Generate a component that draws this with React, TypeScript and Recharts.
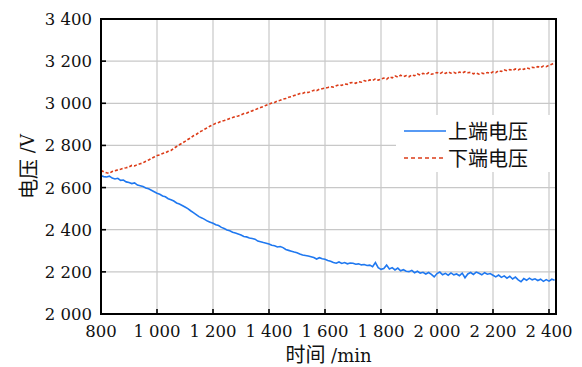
import React from 'react';
import { LineChart, Line, XAxis, YAxis, CartesianGrid, Legend, ReferenceArea } from 'recharts';

// sampling: every 10 min starting at 800 min
const startTime = 800;
const timeStep = 10;

const upperVoltage = [
  2656, 2652, 2650, 2654, 2645, 2641, 2644, 2634, 2636, 2627,
  2624, 2619, 2622, 2612, 2609, 2605, 2598, 2594, 2587, 2580,
  2573, 2568, 2560, 2556, 2547, 2542, 2536, 2527, 2522, 2515,
  2508, 2500, 2490, 2481, 2472, 2462, 2456, 2449, 2441, 2436,
  2431, 2424, 2420, 2411, 2406, 2399, 2395, 2388, 2384, 2380,
  2375, 2368, 2366, 2361, 2358, 2355, 2346, 2343, 2339, 2336,
  2332, 2326, 2324, 2318, 2320, 2315, 2306, 2302, 2298, 2294,
  2291, 2285, 2280, 2278, 2275, 2272, 2268, 2261, 2267, 2262,
  2260, 2254, 2250, 2244, 2241, 2247, 2240, 2244, 2238, 2242,
  2241, 2236, 2238, 2233, 2235, 2230, 2232, 2225, 2244, 2220,
  2212, 2216, 2232, 2214, 2220, 2209, 2218, 2205, 2210, 2203,
  2201, 2207, 2196, 2203, 2194, 2198, 2190, 2197, 2188, 2176,
  2192, 2199, 2186, 2193, 2184, 2195, 2186, 2190, 2182, 2194,
  2172, 2190, 2197, 2188, 2199, 2193, 2186, 2196, 2189, 2192,
  2184, 2176, 2185, 2174, 2181, 2170, 2179, 2166, 2175, 2162,
  2153, 2168, 2160, 2170, 2162, 2167, 2159, 2165, 2155, 2163,
  2156, 2165, 2160,
];

const lowerVoltage = [
  2681, 2675, 2670, 2668, 2676, 2680, 2684, 2687, 2692, 2694,
  2698, 2705, 2703, 2709, 2713, 2717, 2725, 2731, 2738, 2745,
  2752, 2755, 2762, 2765, 2772, 2776, 2786, 2795, 2803, 2811,
  2819, 2828, 2836, 2846, 2852, 2862, 2869, 2877, 2884, 2892,
  2898, 2905, 2909, 2915, 2918, 2922, 2928, 2932, 2937, 2940,
  2945, 2951, 2953, 2960, 2964, 2969, 2975, 2980, 2985, 2991,
  2996, 3001, 3004, 3011, 3014, 3020, 3023, 3029, 3031, 3037,
  3040, 3046, 3047, 3053, 3051, 3056, 3062, 3060, 3067, 3069,
  3072, 3075, 3079, 3077, 3083, 3088, 3085, 3092, 3090, 3097,
  3099, 3095, 3103, 3100, 3108, 3104, 3111, 3108, 3116, 3110,
  3115, 3120, 3114, 3125, 3121, 3130, 3124, 3133, 3127, 3131,
  3126, 3135, 3131, 3139, 3134, 3142, 3137, 3145, 3138, 3141,
  3146, 3140, 3148, 3142, 3149, 3143, 3147, 3141, 3148, 3144,
  3150, 3145, 3147, 3140, 3144, 3138, 3143, 3140, 3146, 3142,
  3149, 3145, 3155, 3151, 3159, 3154, 3160, 3156, 3163, 3158,
  3165, 3161, 3168, 3164, 3171, 3168, 3174, 3170, 3177, 3174,
  3180, 3185, 3194,
];

const xTicks = [800, 1000, 1200, 1400, 1600, 1800, 2000, 2200, 2400];
const yTicks = [2000, 2200, 2400, 2600, 2800, 3000, 3200, 3400];
const xDomain = [800, 2425];
const yDomain = [2000, 3400];
const seriesNames = ['上端电压', '下端电压'];
const xTitle = ['时间', ' /min'];
const yTitle = ['电压', ' /V'];

const data = upperVoltage.map((u, i) => ({
  t: startTime + i * timeStep,
  upper: u,
  lower: lowerVoltage[i],
}));

const BLUE = '#1f78f0';
const RED = '#dc3c18';
const TEXT = '#111';
const LATIN = "'DejaVu Serif', 'Noto Sans CJK SC', serif";
const CJK = "'Noto Sans CJK SC', sans-serif";

const fmt = (v: number) => String(v).replace(/\B(?=(\d{3})+(?!\d))/g, ' ');

const XTick = (props: any) => {
  const { x, y, payload } = props;
  return (
    <text x={x} y={y} textAnchor="middle" fontFamily={LATIN} fontSize={16.5} fill={TEXT}>
      {fmt(payload.value)}
    </text>
  );
};

const YTick = (props: any) => {
  const { x, y, payload } = props;
  return (
    <text x={x} y={y + 6} textAnchor="end" fontFamily={LATIN} fontSize={16.5} fill={TEXT}>
      {fmt(payload.value)}
    </text>
  );
};

const Title = ({ parts, ...rest }: any) => (
  <text {...rest} fill={TEXT}>
    <tspan fontFamily={CJK} fontSize={20}>{parts[0]}</tspan>
    <tspan fontFamily={LATIN} fontSize={18}>{parts[1]}</tspan>
  </text>
);

const LegendContent = () => (
  <div
    style={{
      background: '#fff',
      width: 159,
      height: 57,
      boxSizing: 'border-box',
      paddingTop: 2,
      paddingLeft: 8,
      fontFamily: CJK,
      fontSize: 20,
      color: TEXT,
    }}
  >
    {seriesNames.map((name, i) => (
      <div key={name} style={{ display: 'flex', alignItems: 'center', height: 27, whiteSpace: 'nowrap' }}>
        <svg width={42} height={10} style={{ marginRight: 2 }}>
          <line x1={0} y1={5} x2={42} y2={5} stroke={i === 0 ? BLUE : RED} strokeWidth={1.5}
            strokeDasharray={i === 0 ? undefined : '4 3'} />
        </svg>
        <span style={{ lineHeight: '27px' }}>{name}</span>
      </div>
    ))}
  </div>
);

const axisLine = { stroke: '#000', strokeWidth: 2 };
const tickLine = { stroke: '#000', strokeWidth: 1.6 };

export default function App() {
  return (
    <LineChart width={574} height={359} data={data} margin={{ top: 10, right: 25, bottom: 0, left: 0 }}>
      <CartesianGrid stroke="#c8c8c8" strokeWidth={1.2} />
      <Line dataKey="upper" name={seriesNames[0]} stroke={BLUE} strokeWidth={1.6} dot={false} isAnimationActive={false} />
      <Line dataKey="lower" name={seriesNames[1]} stroke={RED} strokeWidth={1.6} strokeDasharray="3 2" dot={false} isAnimationActive={false} />
      <XAxis dataKey="t" type="number" domain={xDomain} ticks={xTicks} allowDataOverflow height={53}
        axisLine={axisLine} tickLine={tickLine} tickSize={-5} tickMargin={28} tick={<XTick />} interval={0}
        label={{
          content: (p: any) => {
            const vb = p.viewBox;
            return <Title parts={xTitle} x={vb.x + vb.width / 2} y={vb.y + 48} textAnchor="middle" />;
          },
        }}
      />
      <XAxis xAxisId="top" orientation="top" dataKey="t" type="number" domain={xDomain} ticks={xTicks} allowDataOverflow height={1}
        axisLine={axisLine} tickLine={tickLine} tickSize={-5} tick={false} interval={0} />
      <YAxis type="number" domain={yDomain} ticks={yTicks} allowDataOverflow width={93}
        axisLine={axisLine} tickLine={tickLine} tickSize={-5} tickMargin={14} tick={<YTick />} interval={0}
        label={{
          content: (p: any) => {
            const vb = p.viewBox;
            const cx = 19;
            const cy = vb.y + vb.height / 2;
            return (
              <Title parts={yTitle} x={cx} y={cy} textAnchor="middle" dominantBaseline="central"
                transform={`rotate(-90 ${cx} ${cy})`} />
            );
          },
        }}
      />
      <YAxis yAxisId="right" orientation="right" type="number" domain={yDomain} ticks={yTicks} allowDataOverflow width={1}
        axisLine={axisLine} tickLine={tickLine} tickSize={-5} tick={false} interval={0} />
      {/* plot frame */}
      <ReferenceArea x1={xDomain[0]} x2={xDomain[1]} y1={yDomain[0]} y2={yDomain[1]}
        fill="none" fillOpacity={0} stroke="#000" strokeWidth={2} strokeOpacity={1} ifOverflow="visible" />
      <Legend layout="vertical" align="center" verticalAlign="middle" content={<LegendContent />}
        wrapperStyle={{ position: 'absolute', left: 388, top: 107, width: 159, height: 57 }} />
    </LineChart>
  );
}
